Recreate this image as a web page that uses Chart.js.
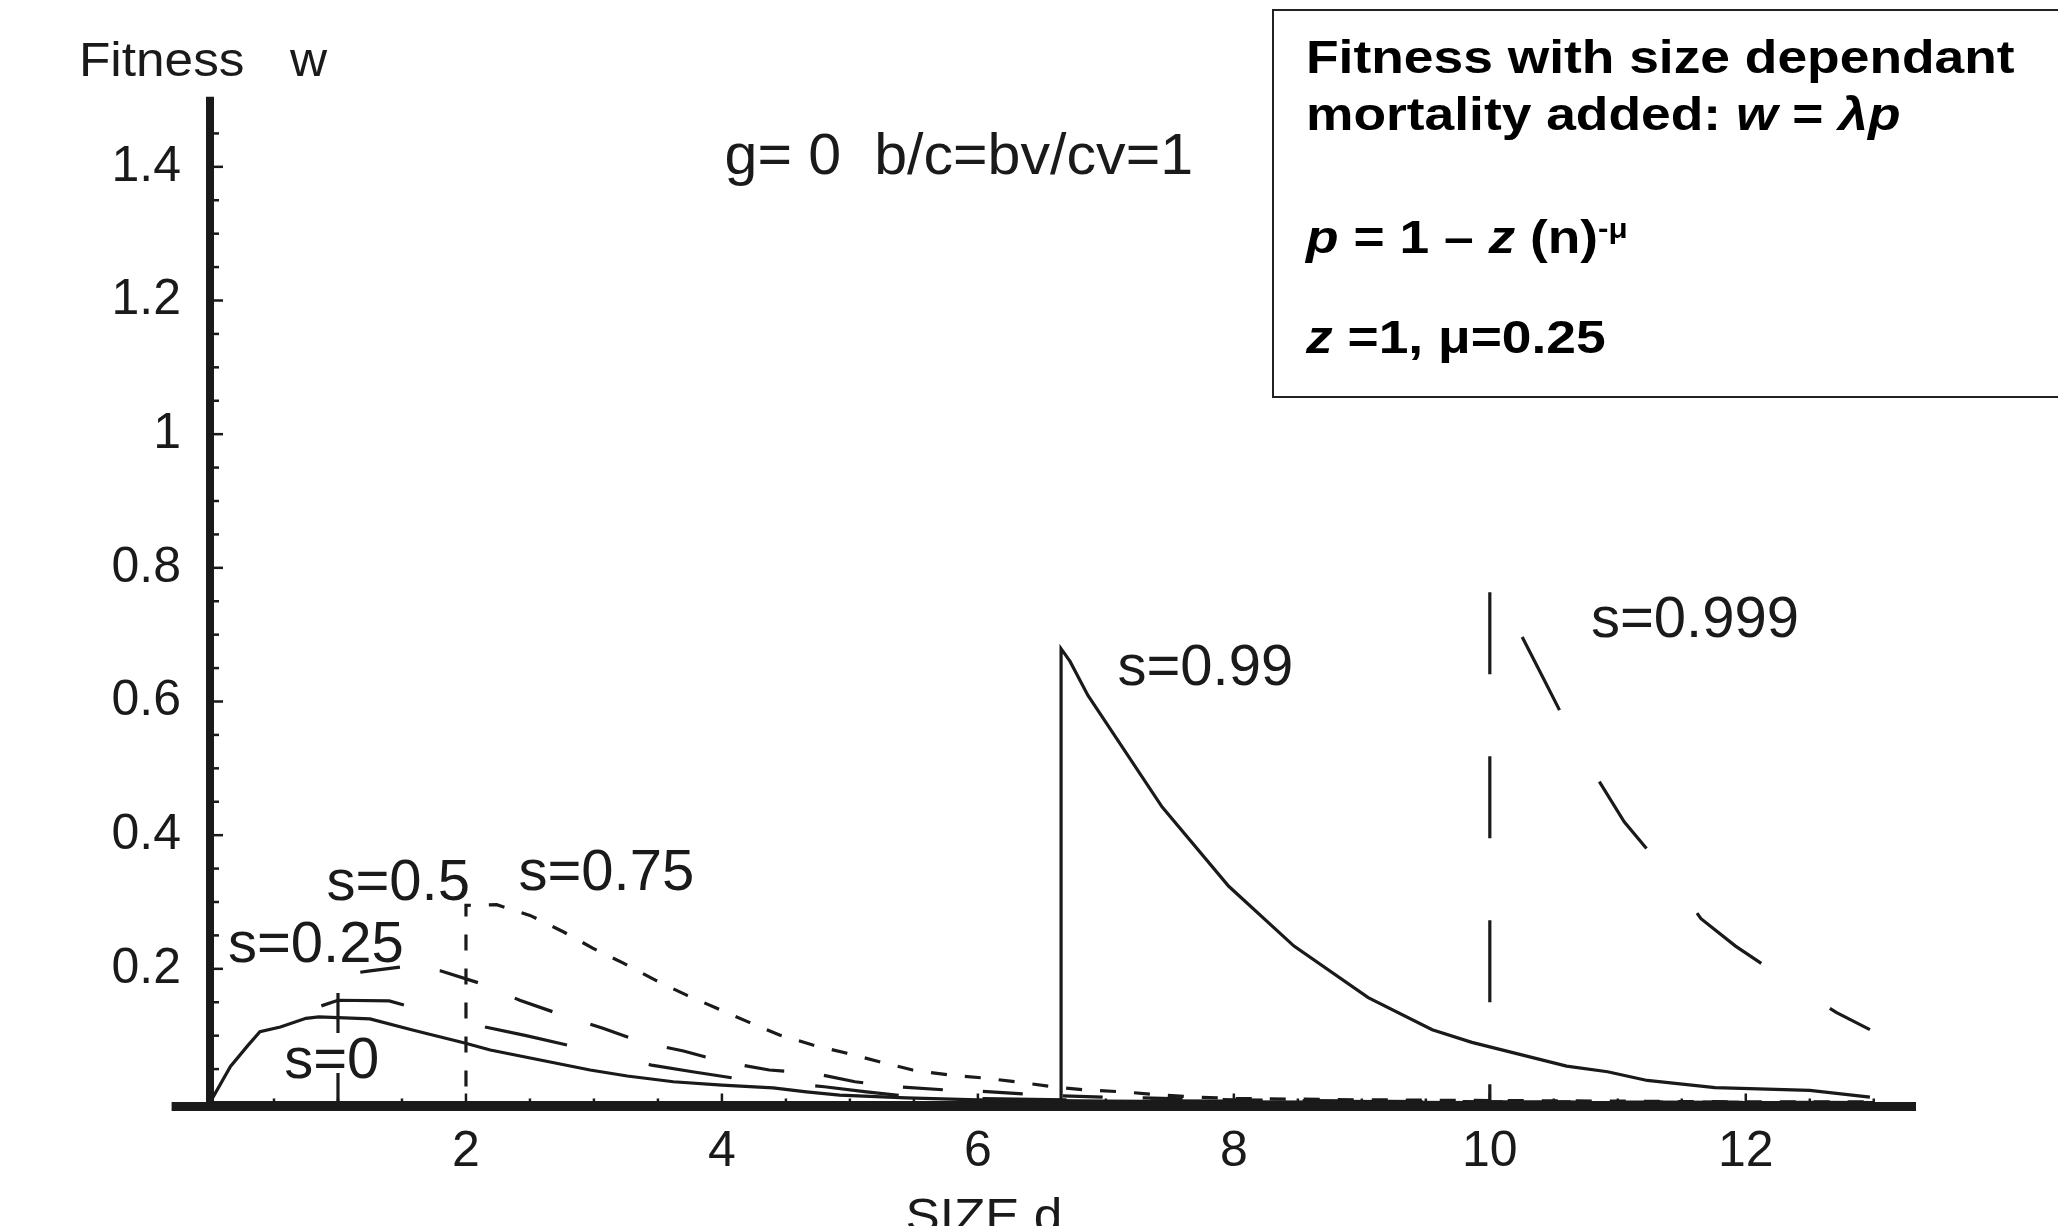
<!DOCTYPE html>
<html>
<head>
<meta charset="utf-8">
<script src="https://cdn.jsdelivr.net/npm/chart.js@4/dist/chart.umd.min.js"></script>
<style>
  html, body { margin: 0; padding: 0; background: #fff; }
  #wrap { width: 2058px; height: 1226px; }
</style>
</head>
<body>
<div id="wrap"><canvas id="chart" width="2058" height="1226"></canvas></div>
<script>
// values: size d and fitness w, one pair of arrays per curve
const sizeS0 = [0, 0.16, 0.29, 0.39, 0.55, 0.75, 0.85, 1.25, 1.59, 1.99, 2.19, 2.58, 2.97, 3.26, 3.62, 4.0, 4.4, 4.66, 4.92, 5.44, 6.0, 7.0, 8.0, 10.0, 13.0]
const fitS0 = [0, 0.054, 0.084, 0.106, 0.113, 0.126, 0.128, 0.125, 0.108, 0.089, 0.0785, 0.0636, 0.0486, 0.0397, 0.031, 0.026, 0.022, 0.016, 0.011, 0.007, 0.004, 0.002, 0.001, 0, 0]

const sizeS25 = [0.5, 0.65, 0.8, 1.0, 1.4, 1.8, 2.15, 2.47, 2.79, 3.12, 3.45, 3.77, 4.09, 4.45, 4.8, 5.13, 5.47, 6.0, 7.0, 8.0, 10.0, 13.0]
const fitS25 = [0.091, 0.118, 0.14, 0.153, 0.152, 0.131, 0.113, 0.1, 0.086, 0.07, 0.056, 0.046, 0.0366, 0.03, 0.0236, 0.016, 0.0087, 0.006, 0.003, 0.002, 0.001, 0]

const sizeS50 = [0, 1, 1, 1.25, 1.5, 1.8, 2.1, 2.42, 2.72, 3.07, 3.37, 3.7, 4.02, 4.37, 4.71, 5.04, 5.37, 5.73, 6.0, 6.5, 7, 8, 9, 10, 13]
const fitS50 = [0, 0, 0.19, 0.197, 0.203, 0.197, 0.179, 0.153, 0.133, 0.111, 0.0905, 0.077, 0.0606, 0.0486, 0.044, 0.031, 0.0236, 0.019, 0.017, 0.011, 0.008, 0.004, 0.002, 0.001, 0]

const sizeS75 = [0, 2, 2, 2.24, 2.5, 2.76, 2.99, 3.23, 3.48, 3.72, 3.96, 4.2, 4.45, 4.71, 4.97, 5.23, 5.49, 5.78, 6.05, 6.3, 6.58, 6.85, 7.13, 7.4, 7.7, 8, 9, 10, 11, 12, 13]
const fitS75 = [0, 0, 0.295, 0.296, 0.28, 0.2555, 0.231, 0.2085, 0.183, 0.161, 0.141, 0.121, 0.101, 0.086, 0.074, 0.061, 0.0486, 0.041, 0.0366, 0.031, 0.0236, 0.0187, 0.016, 0.0117, 0.008, 0.006, 0.004, 0.003, 0.002, 0.001, 0.001]

const sizeS99 = [0, 6.65, 6.65, 6.72, 6.86, 7.44, 7.96, 8.47, 9.05, 9.55, 9.86, 10.6, 10.92, 11.23, 11.76, 12.5, 12.97]
const fitS99 = [0, 0, 0.679, 0.66, 0.609, 0.442, 0.3235, 0.234, 0.157, 0.109, 0.09, 0.0545, 0.046, 0.033, 0.0224, 0.018, 0.008]

const sizeS999 = [0, 10, 10, 10.12, 10.42, 10.71, 11.05, 11.47, 11.65, 11.92, 12.47, 12.71, 12.97]
const fitS999 = [0, 0, 0.785, 0.746, 0.634, 0.525, 0.42, 0.3235, 0.275, 0.234, 0.163, 0.1345, 0.109]

const seriesNames = ['s=0', 's=0.25', 's=0.5', 's=0.75', 's=0.99', 's=0.999']

const xTickValues = [2, 4, 6, 8, 10, 12]
const xTickLabels = ['2', '4', '6', '8', '10', '12']
const yTickValues = [0.2, 0.4, 0.6, 0.8, 1, 1.2, 1.4]
const yTickLabels = ['0.2', '0.4', '0.6', '0.8', '1', '1.2', '1.4']

// where the curve names sit (left edge, baseline) in data units
const nameAnchors = [[0.58, 0.036], [0.14, 0.21], [0.91, 0.303], [2.41, 0.3175], [7.09, 0.6246], [10.79, 0.697]]

const ink = '#1a1a1a'

function pairs(xs, ys) {
    return xs.map((x, i) => ({x: x, y: ys[i]}))
}

// line style of each curve: solid, long dash, medium dash, short dash ...
const lineStyles = [
    {dash: [], offset: 0},
    {dash: [84, 84], offset: 108},
    {dash: [40, 40], offset: 42.5},
    {dash: [16, 18], offset: 0},
    {dash: [], offset: 0},
    {dash: [82, 82], offset: 96}
]

const allSizes = [sizeS0, sizeS25, sizeS50, sizeS75, sizeS99, sizeS999]
const allFits = [fitS0, fitS25, fitS50, fitS75, fitS99, fitS999]

const datasets = seriesNames.map((name, i) => ({
    label: name,
    data: pairs(allSizes[i], allFits[i]),
    showLine: true,
    borderColor: ink,
    borderWidth: 3.2,
    borderDash: lineStyles[i].dash,
    borderDashOffset: lineStyles[i].offset,
    pointRadius: 0,
    tension: 0,
    fill: false
}))

function stretchText(ctx, text, x, y, sx) {
    ctx.save()
    ctx.translate(x, y)
    ctx.scale(sx, 1)
    ctx.fillText(text, 0, 0)
    ctx.restore()
}

// draws a line made of pieces in different fonts (bold, italic, superscript)
function drawRuns(ctx, runs, x, y, sx) {
    ctx.save()
    ctx.translate(x, y)
    ctx.scale(sx, 1)
    let cx = 0
    for (const r of runs) {
        ctx.font = r.font
        ctx.fillText(r.text, cx, -(r.rise || 0))
        cx += ctx.measureText(r.text).width
    }
    ctx.restore()
}

const decorations = {
    id: 'decorations',
    afterDatasetsDraw(chart) {
        const ctx = chart.ctx
        const xs = chart.scales.x
        const ys = chart.scales.y
        const x0 = xs.getPixelForValue(0)
        const y0 = ys.getPixelForValue(0)
        ctx.save()
        ctx.strokeStyle = ink
        ctx.lineCap = 'butt'

        /* tick marks, pointing into the plot */
        ctx.lineWidth = 2.5
        for (let k = 1; k <= 29; k++) {
            const v = k * 0.05
            const py = ys.getPixelForValue(v)
            const len = (k % 4 === 0) ? 9 : 5
            ctx.beginPath()
            ctx.moveTo(x0 + 3, py)
            ctx.lineTo(x0 + 4 + len, py)
            ctx.stroke()
        }
        for (let k = 1; k <= 26; k++) {
            const v = k * 0.5
            const px = xs.getPixelForValue(v)
            const len = (k % 4 === 0) ? 9 : 4
            ctx.beginPath()
            ctx.moveTo(px, y0 + 1)
            ctx.lineTo(px, y0 - len)
            ctx.stroke()
        }

        /* heavy axis lines */
        ctx.lineWidth = 8
        ctx.beginPath()
        ctx.moveTo(x0, ys.getPixelForValue(1.505))
        ctx.lineTo(x0, y0 + 8)
        ctx.stroke()
        ctx.lineWidth = 9
        ctx.beginPath()
        ctx.moveTo(xs.getPixelForValue(-0.3), y0 + 4)
        ctx.lineTo(xs.getPixelForValue(13.33), y0 + 4)
        ctx.stroke()
        ctx.restore()
    },
    afterDraw(chart) {
        const ctx = chart.ctx
        const xs = chart.scales.x
        const ys = chart.scales.y
        ctx.save()
        ctx.fillStyle = ink
        ctx.textBaseline = 'alphabetic'
        ctx.textAlign = 'left'

        // curve names
        ctx.font = '58px "Liberation Sans", Arial, sans-serif'
        seriesNames.forEach((name, i) => {
            ctx.fillText(name, xs.getPixelForValue(nameAnchors[i][0]), ys.getPixelForValue(nameAnchors[i][1]))
        })
        stretchText(ctx, 'g= 0  b/c=bv/cv=1', xs.getPixelForValue(4.02), ys.getPixelForValue(1.39), 1.02)

        // axis names
        ctx.font = '48px "Liberation Sans", Arial, sans-serif'
        stretchText(ctx, 'Fitness', 79, 76, 1.07)
        stretchText(ctx, 'w', 290, 76, 1.07)
        ctx.textAlign = 'center'
        stretchText(ctx, 'SIZE d', xs.getPixelForValue(6.0) + 6, 1232, 1.07)
        ctx.textAlign = 'left'

        // formula box in the top right corner
        ctx.strokeStyle = '#222'
        ctx.lineWidth = 2
        ctx.strokeRect(1273, 10, 820, 387)
        ctx.fillStyle = '#000'
        const B = 'bold 46px "Liberation Sans", Arial, sans-serif'
        const BI = 'italic bold 46px "Liberation Sans", Arial, sans-serif'
        const SUP = 'bold 27px "Liberation Sans", Arial, sans-serif'
        const sx = 1.16
        drawRuns(ctx, [{text: 'Fitness with size dependant', font: B}], 1306, 73, sx)
        drawRuns(ctx, [
            {text: 'mortality added: ', font: B},
            {text: 'w', font: BI},
            {text: ' = ', font: B},
            {text: '\u03bbp', font: BI}
        ], 1306, 130, sx)
        drawRuns(ctx, [
            {text: 'p', font: BI},
            {text: ' = 1 \u2013 ', font: B},
            {text: 'z', font: BI},
            {text: ' (n)', font: B},
            {text: '-\u03bc', font: SUP, rise: 15}
        ], 1306, 253, sx)
        drawRuns(ctx, [
            {text: 'z', font: BI},
            {text: ' =1, \u03bc=0.25', font: B}
        ], 1306, 353, sx)
        ctx.restore()
    }
}

const tickFont = {family: '"Liberation Sans", Arial, sans-serif', size: 50}

var ctx = document.getElementById('chart').getContext('2d')
var fitnessChart = new Chart(ctx, {
    type: 'scatter',
    data: {datasets: datasets},
    options: {
        responsive: false,
        animation: false,
        devicePixelRatio: 1,
        layout: {padding: {top: 100, right: 142, left: 0, bottom: 0}},
        plugins: {
            legend: {display: false},
            tooltip: {enabled: false}
        },
        scales: {
            x: {
                type: 'linear',
                min: 0,
                max: 13.33,
                grid: {display: false, drawTicks: false},
                border: {display: false},
                afterBuildTicks: function(scale) {
                    scale.ticks = xTickValues.map(v => ({value: v}))
                },
                afterFit: function(scale) {
                    scale.height = 123.5
                },
                ticks: {
                    callback: (v, i) => xTickLabels[i],
                    font: tickFont,
                    color: ink,
                    padding: 20,
                    maxRotation: 0,
                    autoSkip: false
                }
            },
            y: {
                type: 'linear',
                min: 0,
                max: 1.5,
                grid: {display: false, drawTicks: false},
                border: {display: false},
                afterBuildTicks: function(scale) {
                    scale.ticks = yTickValues.map(v => ({value: v}))
                },
                afterFit: function(scale) {
                    scale.width = 210
                },
                ticks: {
                    callback: (v, i) => yTickLabels[i],
                    font: tickFont,
                    color: ink,
                    padding: 29,
                    autoSkip: false
                }
            }
        }
    },
    plugins: [decorations]
})
</script>
</body>
</html>
